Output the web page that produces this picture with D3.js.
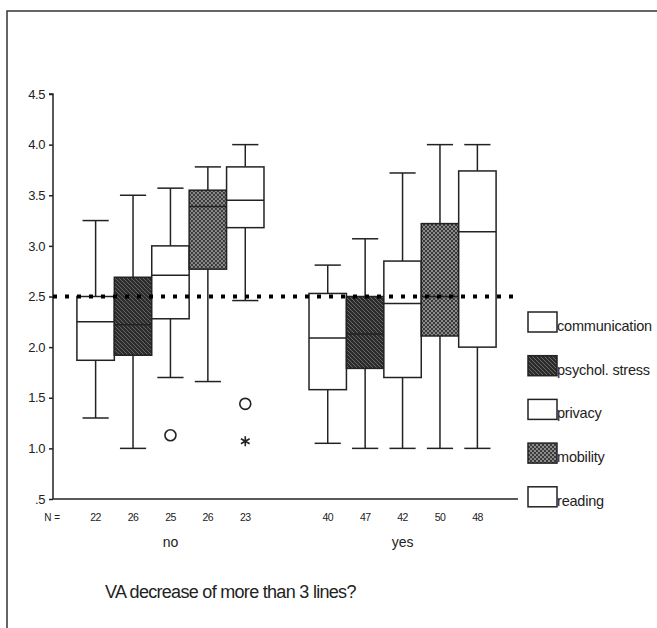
<!DOCTYPE html>
<html>
<head>
<meta charset="utf-8">
<script src="https://cdn.jsdelivr.net/npm/d3@7"></script>
<style>
  body { margin: 0; background: #fff; }
  text { font-family: "Liberation Sans", Arial, sans-serif; fill: #222; }
</style>
</head>
<body>
<div id="chart"></div>
<script>
// groups and categories
const groups = ["no", "yes"];
const categories = ["communication", "psychol. stress", "privacy", "mobility", "reading"];
const fills = ["white", "url(#hatch)", "white", "url(#checker)", "white"];

// box statistics per group, in category order
const nCounts = { no: [22, 26, 25, 26, 23], yes: [40, 47, 42, 50, 48] };
const whiskerLow = { no: [1.30, 1.00, 1.70, 1.66, 2.46], yes: [1.05, 1.00, 1.00, 1.00, 1.00] };
const q1 = { no: [1.87, 1.92, 2.28, 2.77, 3.18], yes: [1.58, 1.79, 1.70, 2.11, 2.00] };
const median = { no: [2.25, 2.22, 2.71, 3.39, 3.45], yes: [2.09, 2.13, 2.43, 2.50, 3.14] };
const q3 = { no: [2.50, 2.69, 3.00, 3.55, 3.78], yes: [2.53, 2.50, 2.85, 3.22, 3.74] };
const whiskerHigh = { no: [3.25, 3.50, 3.57, 3.78, 4.00], yes: [2.81, 3.07, 3.72, 4.00, 4.00] };

// outliers: [group, category index, value, kind]
const outliers = [
  ["no", 2, 1.13, "o"],
  ["no", 4, 1.44, "o"],
  ["no", 4, 1.07, "*"]
];

const yTicks = [0.5, 1.0, 1.5, 2.0, 2.5, 3.0, 3.5, 4.0, 4.5];
const refValue = 2.5;

const width = 657, height = 628;
const svg = d3.select("#chart").append("svg")
  .attr("width", width).attr("height", height);

const defs = svg.append("defs");
const hatch = defs.append("pattern").attr("id", "hatch")
  .attr("patternUnits", "userSpaceOnUse").attr("width", 4).attr("height", 4);
hatch.append("rect").attr("width", 4).attr("height", 4).attr("fill", "#2b2b2b");
hatch.append("path").attr("d", "M-1,-1 L5,5 M-1,3 L1,5 M3,-1 L5,1")
  .attr("stroke", "#6a6a6a").attr("stroke-width", 1);

const checker = defs.append("pattern").attr("id", "checker")
  .attr("patternUnits", "userSpaceOnUse").attr("width", 4).attr("height", 4);
checker.append("rect").attr("width", 4).attr("height", 4).attr("fill", "#3a3a3a");
checker.append("rect").attr("width", 2).attr("height", 2).attr("fill", "#8a8a8a");
checker.append("rect").attr("x", 2).attr("y", 2).attr("width", 2).attr("height", 2).attr("fill", "#8a8a8a");

// frame
svg.append("path").attr("d", `M7,${height} V11 H${width}`)
  .attr("fill", "none").attr("stroke", "#333").attr("stroke-width", 1.5);

const y = d3.scaleLinear().domain([0.5, 4.5]).range([499, 94]);
const x0 = d3.scaleBand().domain(groups).range([53, 520])
  .paddingInner(0.194).paddingOuter(0.103);
const x1 = d3.scaleBand().domain(categories).range([0, x0.bandwidth()]);
const bw = x1.bandwidth();

// y axis
const yAxis = d3.axisLeft(y).tickValues(yTicks).tickSize(4).tickPadding(4)
  .tickFormat(d => d === 0.5 ? ".5" : d3.format(".1f")(d));
const gy = svg.append("g").attr("transform", "translate(53,0)").call(yAxis);
gy.select(".domain").attr("stroke", "#222").attr("stroke-width", 1.5).attr("d", `M-4,${y(4.5)}H0V${y(0.5)}`);
gy.selectAll(".tick line").attr("stroke", "#222").attr("stroke-width", 1.5);
gy.selectAll(".tick text").attr("font-size", 13).attr("fill", "#333").style("letter-spacing", "-0.4px");

// x baseline
svg.append("line").attr("x1", 53).attr("x2", 518).attr("y1", y(0.5)).attr("y2", y(0.5))
  .attr("stroke", "#222").attr("stroke-width", 1.5);

// boxes
groups.forEach(g => {
  const gg = svg.append("g").attr("transform", `translate(${x0(g)},0)`);
  categories.forEach((c, i) => {
    const cx = x1(c) + bw / 2;
    const capW = bw * 0.7;
    const st = { stroke: "#222", "stroke-width": 1.5 };
    const line = (xa, ya, xb, yb) => {
      const l = gg.append("line").attr("x1", xa).attr("y1", ya).attr("x2", xb).attr("y2", yb);
      Object.entries(st).forEach(([k, v]) => l.attr(k, v));
    };
    line(cx, y(whiskerHigh[g][i]), cx, y(q3[g][i]));
    line(cx, y(q1[g][i]), cx, y(whiskerLow[g][i]));
    line(cx - capW / 2, y(whiskerHigh[g][i]), cx + capW / 2, y(whiskerHigh[g][i]));
    line(cx - capW / 2, y(whiskerLow[g][i]), cx + capW / 2, y(whiskerLow[g][i]));
    gg.append("rect").attr("x", x1(c)).attr("width", bw)
      .attr("y", y(q3[g][i])).attr("height", y(q1[g][i]) - y(q3[g][i]))
      .attr("fill", fills[i]).attr("stroke", "#222").attr("stroke-width", 1.5);
    line(x1(c), y(median[g][i]), x1(c) + bw, y(median[g][i]));
    gg.append("text").attr("x", cx).attr("y", 521).attr("text-anchor", "middle")
      .attr("font-size", 10.5).attr("fill", "#555").style("letter-spacing", "-0.6px")
      .text(nCounts[g][i]);
  });
  svg.append("text").attr("x", x0(g) + x0.bandwidth() / 2).attr("y", 547)
    .attr("text-anchor", "middle").attr("font-size", 14).text(g);
});

svg.append("text").attr("x", 60).attr("y", 521).attr("text-anchor", "end")
  .attr("font-size", 10).attr("fill", "#555").text("N =");

// outliers
outliers.forEach(([g, i, v, kind]) => {
  const cx = x0(g) + x1(categories[i]) + bw / 2;
  if (kind === "o") {
    svg.append("circle").attr("cx", cx).attr("cy", y(v)).attr("r", 5.5)
      .attr("fill", "none").attr("stroke", "#222").attr("stroke-width", 1.6);
  } else {
    svg.append("path").attr("transform", `translate(${cx},${y(v)})`)
      .attr("d", d3.symbol(d3.symbolAsterisk, 70)())
      .attr("fill", "none").attr("stroke", "#222").attr("stroke-width", 1.6);
  }
});

// reference line
svg.append("line").attr("x1", 53).attr("x2", 515).attr("y1", y(refValue)).attr("y2", y(refValue))
  .attr("stroke", "#000").attr("stroke-width", 4).attr("stroke-dasharray", "4,8");

// legend
const legend = svg.append("g");
categories.forEach((c, i) => {
  const ly = 312 + i * 43.7;
  legend.append("rect").attr("x", 528).attr("y", ly).attr("width", 29).attr("height", 20)
    .attr("fill", fills[i]).attr("stroke", "#222").attr("stroke-width", 1.5);
  legend.append("text").attr("x", 557).attr("y", ly + 19).attr("font-size", 14.5)
    .style("letter-spacing", "-0.2px").text(c);
});

// title
svg.append("text").attr("x", 105).attr("y", 598).attr("font-size", 18)
  .attr("fill", "#333").style("letter-spacing", "-0.7px")
  .text("VA decrease of more than 3 lines?");
</script>
</body>
</html>
